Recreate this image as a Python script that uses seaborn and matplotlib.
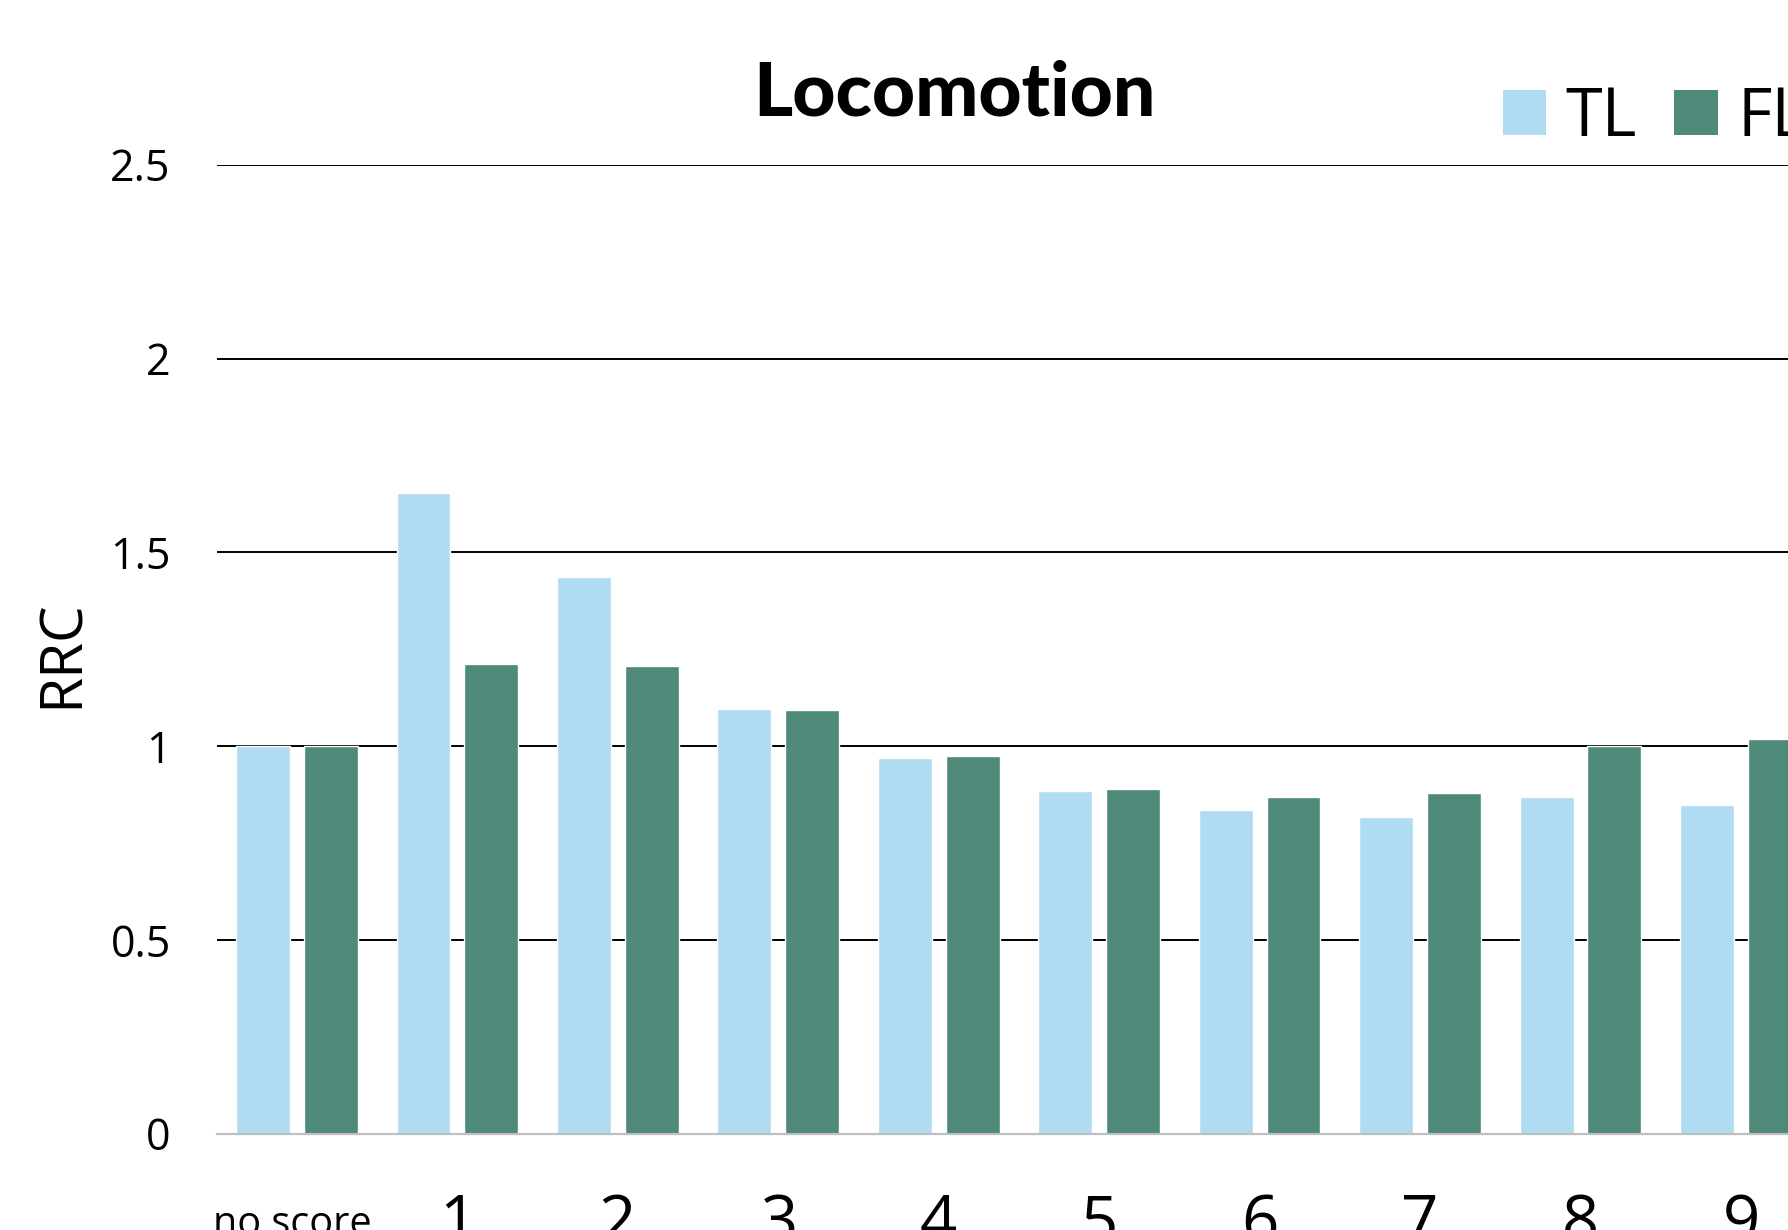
import matplotlib
matplotlib.use("Agg")
import matplotlib.pyplot as plt
from matplotlib.patches import Patch
from matplotlib.transforms import ScaledTranslation
import seaborn as sns
import pandas as pd

categories = ["no score", "1", "2", "3", "4", "5", "6", "7", "8", "9"]
series_names = ["TL", "FL"]
tl_values = [1.00, 1.654, 1.436, 1.096, 0.969, 0.884, 0.835, 0.818, 0.868, 0.848]
fl_values = [1.00, 1.213, 1.207, 1.092, 0.975, 0.890, 0.868, 0.879, 1.00, 1.019]
ytick_values = [0, 0.5, 1, 1.5, 2, 2.5]
ytick_labels = ["0", "0.5", "1", "1.5", "2", "2.5"]
title_text = "Locomotion"
ylabel_text = "RRC"
colors = {"TL": "#AFDCF2", "FL": "#4F897A"}

df = pd.DataFrame({
    "category": categories * 2,
    "series": [series_names[0]] * len(categories) + [series_names[1]] * len(categories),
    "value": tl_values + fl_values,
})

sns.set_style("white")
plt.rcParams["font.family"] = ["Open Sans", "DejaVu Sans"]
plt.rcParams["text.color"] = "black"
plt.rcParams["axes.labelcolor"] = "black"
plt.rcParams["xtick.color"] = "black"
plt.rcParams["ytick.color"] = "black"

W, H = 1788, 1230
fig = plt.figure(figsize=(W / 100, H / 100), dpi=100)
left_px, right_px = 216.7, 1821.2
y0_px, ytop_px = 1133.7, 164.7
ax = fig.add_axes([left_px / W, 1 - y0_px / H, (right_px - left_px) / W, (y0_px - ytop_px) / H])

sns.barplot(data=df, x="category", y="value", hue="series", order=categories,
            hue_order=series_names, palette=colors, width=0.844, gap=0.204,
            saturation=1, legend=False, ax=ax, zorder=3)

ax.set_xlim(-0.5, len(categories) - 0.5)
ax.set_ylim(0, 2.5)
ax.set_yticks(ytick_values)
ax.set_yticklabels(ytick_labels)
ax.yaxis.grid(True, color="black", linewidth=1.4)
ax.xaxis.grid(False)
ax.set_axisbelow(True)
for s in ["left", "right", "top"]:
    ax.spines[s].set_visible(False)
ax.spines["bottom"].set_color("#BFBFBF")
ax.spines["bottom"].set_linewidth(1.6)
ax.spines["bottom"].set_zorder(4)

ax.tick_params(axis="y", length=0, pad=33, labelsize=31, labelcolor="black")
ax.tick_params(axis="x", length=0, pad=42, labelsize=47, labelcolor="black")
ax.set_xlabel("")
ax.set_ylabel("")
for lab in ax.get_xticklabels():
    if lab.get_text() == "no score":
        lab.set_fontsize(28.5)
        lab.set_transform(lab.get_transform() + ScaledTranslation(-5 / 100, -12 / 100, fig.dpi_scale_trans))

fig.text(955 / W, 1 - 115 / H, title_text, ha="center", va="baseline", color="black",
         fontsize=54, fontweight="black", family=["Lato", "DejaVu Sans"])
fig.text(62 / W, 1 - 654 / H, ylabel_text, rotation=90, ha="center", va="center",
         fontsize=42, color="black")

handles = [Patch(facecolor=colors[n], edgecolor="none", label=n) for n in series_names]
fig.legend(handles=handles, loc="center left", bbox_to_anchor=(1503 / W, 1 - 118 / H),
           bbox_transform=fig.transFigure, ncol=2, frameon=False, fontsize=48,
           labelcolor="black",
           handlelength=0.65, handleheight=0.65, handletextpad=0.29,
           columnspacing=0.56, borderpad=0, borderaxespad=0)

fig.savefig("out.png", dpi=100)
